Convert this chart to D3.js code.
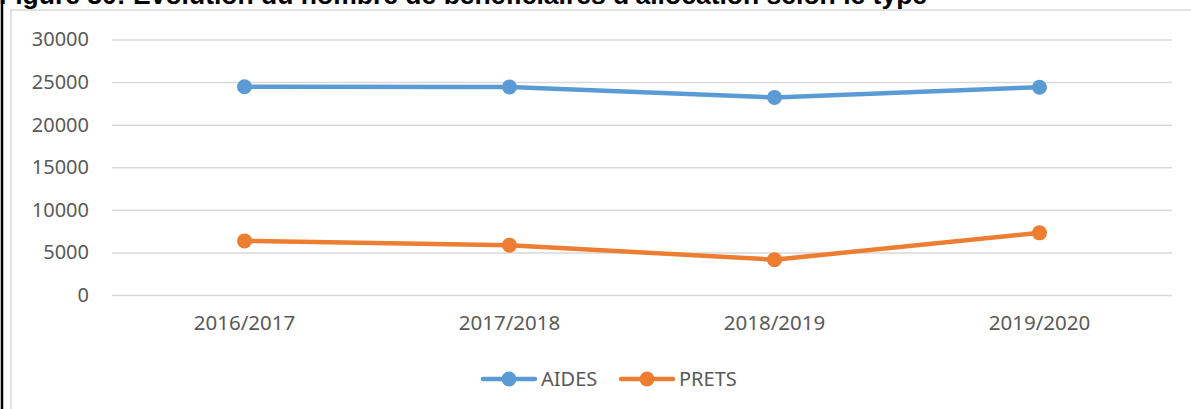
<!DOCTYPE html>
<html>
<head>
<meta charset="utf-8">
<script src="https://cdn.jsdelivr.net/npm/d3@7"></script>
<style>
  body { margin: 0; background: #fff; }
  svg { display: block; }
</style>
</head>
<body>
<div id="plot"></div>
<script>
// Data
const years = ["2016/2017", "2017/2018", "2018/2019", "2019/2020"];
const aides = [24450, 24420, 23200, 24400];
const prets = [6350, 5850, 4150, 7300];
const yTicks = [0, 5000, 10000, 15000, 20000, 25000, 30000];
const seriesNames = ["AIDES", "PRETS"];
const seriesColors = ["#5B9BD5", "#ED7D31"];

const W = 1191, H = 409;
const margin = { top: 39.5, right: 19, bottom: 114, left: 112 },
      width = W - margin.left - margin.right,
      height = H - margin.top - margin.bottom;

const font = "'Noto Sans', 'Open Sans', sans-serif";

const svg = d3.select("#plot")
  .append("svg")
  .attr("width", W)
  .attr("height", H);

// outer frame: black rule at left, grey chart border
svg.append("line")
  .attr("x1", 2).attr("x2", 2).attr("y1", 0).attr("y2", H)
  .attr("stroke", "#000").attr("stroke-width", 2.5);
svg.append("path")
  .attr("d", `M11,${H} V10 H${W}`)
  .attr("fill", "none")
  .attr("stroke", "#D9D9D9")
  .attr("stroke-width", 1.5);

// title, cut off at the top as in the picture
svg.append("text")
  .attr("x", -1)
  .attr("y", 4)
  .style("font-family", "'Liberation Sans', Arial, sans-serif")
  .style("font-size", "26.5px")
  .style("font-weight", "bold")
  .attr("fill", "#000")
  .text("Figure 30: Evolution du nombre de bénéficiaires d'allocation selon le type");

const g = svg.append("g")
  .attr("transform", `translate(${margin.left}, ${margin.top})`);

const x = d3.scaleBand()
  .domain(years)
  .range([0, width]);

const y = d3.scaleLinear()
  .domain([0, 30000])
  .range([height, 0]);

// gridlines + y labels
const yAxis = g.append("g")
  .call(d3.axisLeft(y).tickValues(yTicks).tickSize(-width).tickPadding(23).tickFormat(d3.format("d")));
yAxis.select(".domain").remove();
yAxis.selectAll(".tick line")
  .attr("stroke", "#D9D9D9")
  .attr("stroke-width", 1.5);
yAxis.selectAll(".tick text")
  .attr("fill", "#595959")
  .style("font-family", font)
  .style("font-size", "20px");

// x labels
const xAxis = g.append("g")
  .attr("transform", `translate(0, ${height})`)
  .call(d3.axisBottom(x).tickSize(0).tickPadding(20));
xAxis.select(".domain").remove();
xAxis.selectAll(".tick text")
  .attr("fill", "#595959")
  .style("font-family", font)
  .style("font-size", "20.5px");

const series = [aides, prets];
const line = d3.line()
  .x((d, i) => x(years[i]) + x.bandwidth() / 2)
  .y(d => y(d));

series.forEach((vals, k) => {
  g.append("path")
    .datum(vals)
    .attr("fill", "none")
    .attr("stroke", seriesColors[k])
    .attr("stroke-width", 4.5)
    .attr("stroke-linejoin", "round")
    .attr("d", line);

  g.selectAll(".pt" + k)
    .data(vals)
    .enter()
    .append("circle")
    .attr("cx", (d, i) => x(years[i]) + x.bandwidth() / 2)
    .attr("cy", d => y(d))
    .attr("r", 7.5)
    .attr("fill", seriesColors[k]);
});

// legend
const legend = svg.append("g")
  .attr("transform", "translate(481, 379)");
seriesNames.forEach((name, k) => {
  const item = legend.append("g")
    .attr("transform", `translate(${k * 138}, 0)`);
  item.append("line")
    .attr("x1", 2).attr("x2", 54)
    .attr("stroke", seriesColors[k])
    .attr("stroke-width", 4.5)
    .attr("stroke-linecap", "round");
  item.append("circle")
    .attr("cx", 28)
    .attr("r", 7.5)
    .attr("fill", seriesColors[k]);
  item.append("text")
    .attr("x", 60)
    .attr("dy", "0.35em")
    .attr("fill", "#595959")
    .style("font-family", font)
    .style("font-size", "20px")
    .text(name);
});
</script>
</body>
</html>
